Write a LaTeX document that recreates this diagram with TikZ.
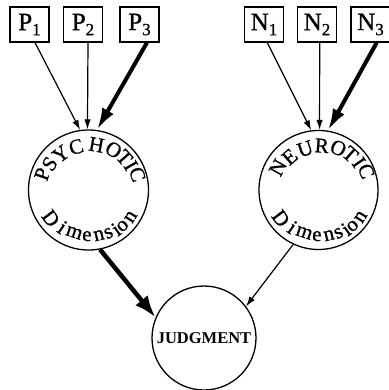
\documentclass[tikz,border=0pt]{standalone}
\usepackage{fontspec}
\setmainfont{Liberation Serif}
\newfontfamily\arcfont[FakeBold=1]{Liberation Serif}
\usetikzlibrary{arrows.meta,calc}
\newcommand\lab[2]{#1\raisebox{-5pt}{\fontsize{17}{17}\selectfont #2}}
\begin{document}
\begin{tikzpicture}[x=1pt,y=-1pt,
  box/.style={draw,line width=1.2pt,minimum width=39pt,minimum height=35pt,inner sep=0pt,font=\arcfont\fontsize{25}{25}\selectfont},
  circ/.style={draw,circle,line width=1.3pt,inner sep=0pt},
  thinarrow/.style={line width=1.2pt,-{Latex[length=10pt,width=6.5pt]}},
  thickarrow/.style={line width=4pt,-{Latex[length=22pt,width=13pt]}},
  bigarrow/.style={line width=4.5pt,-{Latex[length=22pt,width=16pt]}},
  toplet/.style={anchor=base,inner sep=0pt,font=\arcfont\fontsize{21}{21}\selectfont},
  botlet/.style={anchor=base,inner sep=0pt,font=\arcfont\fontsize{21}{21}\selectfont}]
\useasboundingbox (0,0) rectangle (388,390);

\node[box] (p1) at (29.5,24.5) {\lab{P}{1}};
\node[box] (p2) at (83,24.5) {\lab{P}{2}};
\node[box] (p3) at (139.5,24.5) {\lab{P}{3}};
\node[box] (n1) at (264,24.5) {\lab{N}{1}};
\node[box] (n2) at (317,24.5) {\lab{N}{2}};
\node[box] (n3) at (370.5,24.5) {\lab{N}{3}};

\node[circ,minimum size=120pt] (psy) at (88.5,190) {};
\node[circ,minimum size=119pt] (neu) at (318.5,190) {};
\node[circ,minimum size=104pt,font=\bfseries\fontsize{16.5}{16.5}\selectfont] (judg) at (204,338) {JUDGMENT};

\draw[thinarrow] ([xshift=5.5pt]p1.south) -- (psy.98);
\draw[thinarrow] ([xshift=5pt]p2.south) -- (psy.91);
\draw[thickarrow] ([xshift=7.5pt]p3.south) -- (psy.82);
\draw[thinarrow] ([xshift=3.3pt]n1.south) -- (neu.97);
\draw[thinarrow] ([xshift=2.7pt]n2.south) -- (neu.89);
\draw[thickarrow] ([xshift=6.2pt]n3.south) -- (neu.81);

\draw[bigarrow] (psy.281) -- (judg.157);
\draw[thinarrow] (neu.245) -- (judg.37);

\foreach \a/\r/\l in {161/42pt/P,146/40pt/S,127.5/38.5pt/Y,106/38pt/C,80/39pt/H,58/40.5pt/O,42/41.5pt/T,30/42pt/I,17.7/44.5pt/C}
  \path (psy.center) ++(\a:\r) node[toplet,rotate=\a-90] {\l};
\foreach \a/\r/\l in {151/39.5pt/N,131/37pt/E,108/36.5pt/U,85.7/37.5pt/R,64.7/39.5pt/O,48.4/41pt/T,34.3/42pt/I,21.5/44.5pt/C}
  \path (neu.center) ++(\a:\r) node[toplet,rotate=\a-90] {\l};
\foreach \c in {psy,neu}
  \foreach \a/\r/\l in {217/54pt/D,235/52.5pt/i,251.5/50pt/m,268/51pt/e,283/51.5pt/n,295/52.5pt/s,305/55pt/i,313.5/54.5pt/o,327.5/55pt/n}
    \path (\c.center) ++(\a:\r) node[botlet,rotate=\a+90] {\l};
\end{tikzpicture}
\end{document}
